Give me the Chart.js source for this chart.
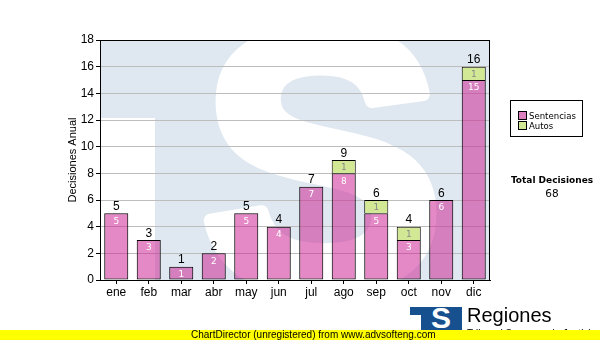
<!DOCTYPE html>
<html>
<head>
<meta charset="utf-8">
<script src="https://cdn.jsdelivr.net/npm/chart.js@4/dist/chart.umd.min.js"></script>
<style>
  body { margin: 0; background: #fff; }
  #wrap { position: relative; width: 600px; height: 340px; overflow: hidden; }
  #chart { position: absolute; left: 0; top: 0; }
  .abs { position: absolute; }
  #legend { left: 510px; top: 100px; width: 71px; height: 35px; border: 1px solid #000; background: #fff;
            font: 9.5px "DejaVu Sans Condensed", "DejaVu Sans", sans-serif; }
  #legend div { position: absolute; left: 7px; white-space: nowrap; line-height: 10px; }
  #legend span { display: inline-block; width: 7px; height: 7px; border: 1px solid #000; margin-right: 2px; vertical-align: -1px; }
  #total { left: 500px; top: 175px; width: 104px; text-align: center; white-space: nowrap;
           font: bold 9px "DejaVu Sans", sans-serif; }
  #totalVal { left: 500px; top: 187px; width: 104px; text-align: center; font: 10.5px "DejaVu Sans", sans-serif; }
  #logo { left: 410px; top: 307px; width: 52px; height: 23px; background: #17508e; overflow: hidden; }
  #logo i { position: absolute; left: 0; top: 8px; width: 11px; height: 20px; background: #fff; }
  #logo b { position: absolute; left: 16px; top: -4px; width: 30px; text-align: center; color: #fff;
            font: bold 30px "Liberation Sans", sans-serif; line-height: 30px; }
  #reg { left: 467px; top: 304px; font: 20px "Liberation Sans", sans-serif; }
  #sub { left: 467px; top: 328px; font: 10px "Liberation Sans", sans-serif; }
  #bar { left: 0; top: 330px; width: 600px; height: 10px; background: #ffff00; font: 10px "Liberation Sans", sans-serif;
         line-height: 10px; }
</style>
</head>
<body>
<div id="wrap">
  <canvas id="chart" width="600" height="340"></canvas>
  <div id="legend" class="abs">
    <div style="top:10px"><span style="background:#dd80c0"></span>Sentencias</div>
    <div style="top:20px"><span style="background:#d2e894"></span>Autos</div>
  </div>
  <div id="total" class="abs">Total Decisiones</div>
  <div id="totalVal" class="abs">68</div>
  <div id="logo" class="abs"><i></i><b>S</b></div>
  <div id="reg" class="abs">Regiones</div>
  <div id="sub" class="abs">Tribunal Supremo de Justicia</div>
  <div id="bar" class="abs"><span style="position:absolute;left:191px;top:0">ChartDirector (unregistered) from www.advsofteng.com</span></div>
</div>
<script>
const months = ["ene", "feb", "mar", "abr", "may", "jun", "jul", "ago", "sep", "oct", "nov", "dic"];
const sentencias = [5, 3, 1, 2, 5, 4, 7, 8, 5, 3, 6, 15];
const autos = [0, 0, 0, 0, 0, 0, 0, 1, 1, 1, 0, 1];
const yTicks = [0, 2, 4, 6, 8, 10, 12, 14, 16, 18];

// light blue "TS" logo behind the plot area (white S on blue)
const watermark = {
  id: "watermark",
  beforeDraw(chart) {
    const { ctx, chartArea: a } = chart;
    ctx.save();
    ctx.beginPath();
    ctx.rect(a.left, a.top, a.right - a.left, a.bottom - a.top);
    ctx.clip();
    ctx.fillStyle = "#dfe8f1";
    ctx.fillRect(a.left, a.top, a.right - a.left, a.bottom - a.top);
    ctx.fillStyle = "#fff";
    ctx.fillRect(a.left, a.top + 78, 55, a.bottom - a.top - 78);
    ctx.font = "bold 365px 'Liberation Sans'";
    ctx.textAlign = "center";
    ctx.textBaseline = "alphabetic";
    ctx.lineWidth = 14;
    ctx.lineJoin = "round";
    ctx.strokeStyle = "#fff";
    ctx.strokeText("S", 322, 286);
    ctx.fillStyle = "#fff";
    ctx.fillText("S", 322, 286);
    ctx.restore();
  }
};

// value labels inside bars, totals on top, and plot frame
const labels = {
  id: "labels",
  afterDatasetsDraw(chart) {
    const { ctx, chartArea: a, scales } = chart;
    ctx.save();
    ctx.textAlign = "center";
    ctx.textBaseline = "middle";
    ctx.font = "9px 'DejaVu Sans'";
    chart.data.datasets.forEach((ds, i) => {
      const meta = chart.getDatasetMeta(i);
      meta.data.forEach((el, j) => {
        if (!ds.data[j]) return;
        ctx.fillStyle = i === 0 ? "#fff" : "#8a8a8a";
        ctx.fillText(ds.data[j], el.x, el.y + 8);
      });
    });
    ctx.font = "12px 'Liberation Sans'";
    ctx.fillStyle = "#000";
    ctx.textBaseline = "bottom";
    months.forEach((m, j) => {
      const t = sentencias[j] + autos[j];
      const x = scales.x.getPixelForValue(j);
      ctx.fillText(t, x, scales.y.getPixelForValue(t) - 0.5);
    });
    ctx.strokeStyle = "#000";
    ctx.lineWidth = 1;
    ctx.strokeRect(a.left + 0.5, a.top + 0.5, a.right - a.left - 1, a.bottom - a.top);
    ctx.restore();
  }
};

new Chart(document.getElementById("chart"), {
  type: "bar",
  data: {
    labels: months,
    datasets: [
      {
        label: "Sentencias",
        data: sentencias,
        backgroundColor: "rgba(205, 40, 150, 0.55)",
        borderColor: "#000",
        borderWidth: 1,
        borderSkipped: false,
      },
      {
        label: "Autos",
        data: autos,
        backgroundColor: "#d2e894",
        borderColor: "#000",
        borderWidth: 1,
        borderSkipped: "bottom",
      },
    ],
  },
  options: {
    responsive: false,
    animation: false,
    layout: { padding: { left: 0, right: 110, top: 40, bottom: 40 } },
    plugins: {
      legend: { display: false },
      tooltip: { enabled: false },
    },
    datasets: { bar: { categoryPercentage: 1, barPercentage: 0.74 } },
    scales: {
      x: {
        stacked: true,
        afterFit(s) { s.height = 20; },
        grid: { display: true, drawOnChartArea: false, offset: false, tickLength: 4, tickColor: "#000" },
        border: { color: "#000" },
        ticks: { color: "#000", padding: 1, font: { family: "Liberation Sans", size: 12 } },
      },
      y: {
        stacked: true,
        min: 0,
        max: 18,
        afterFit(s) { s.width = 100; },
        afterBuildTicks(s) { s.ticks = yTicks.map(v => ({ value: v })); },
        grid: { color: "#bdbdbd", tickLength: 4, tickColor: "#000" },
        border: { color: "#000" },
        ticks: { color: "#000", padding: 2, font: { family: "Liberation Sans", size: 12 } },
        title: {
          display: true,
          text: "Decisiones Anual",
          color: "#000",
          padding: { top: 66, bottom: 0 },
          font: { family: "Liberation Sans", size: 11 },
        },
      },
    },
  },
  plugins: [watermark, labels],
});
</script>
</body>
</html>
